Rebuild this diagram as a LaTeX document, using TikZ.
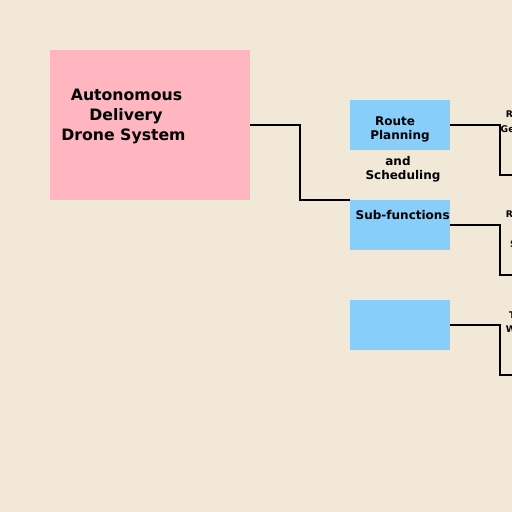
\documentclass[tikz,border=0pt]{standalone}
\usepackage{fontspec}
\setmainfont{DejaVu Sans}
\definecolor{bgc}{RGB}{242,232,216}
\definecolor{pinkc}{RGB}{255,182,193}
\definecolor{bluec}{RGB}{135,206,250}
\tikzset{
  mainbox/.style={fill=pinkc, draw=none, minimum width=200pt, minimum height=150pt, inner sep=0pt},
  subbox/.style={fill=bluec, draw=none, minimum width=100pt, minimum height=50pt, inner sep=0pt},
  bigtxt/.style={anchor=base, inner sep=0pt, font=\bfseries\fontsize{15.7}{20}\selectfont},
  midtxt/.style={anchor=base, inner sep=0pt, font=\bfseries\fontsize{12}{15}\selectfont},
  smalltxt/.style={anchor=base west, inner sep=0pt, font=\bfseries\fontsize{9.2}{12}\selectfont},
  conn/.style={draw=black, line width=2pt}
}
\begin{document}
\begin{tikzpicture}[x=1pt, y=-1pt]
\useasboundingbox (0,0) rectangle (512,512);
\clip (0,0) rectangle (512,512);
\fill[bgc] (0,0) rectangle (512,512);
% boxes
\node[mainbox] (main) at (150,125) {};
\node[subbox] (b1) at (400,125) {};
\node[subbox] (b2) at (400,225) {};
\node[subbox] (b3) at (400,325) {};
% main text
\node[bigtxt] (m1) at (126.5,100) {Autonomous};
\node[bigtxt] (m2) at (126,120) {Delivery};
\node[bigtxt] (m3) at (123.5,140) {Drone System};
% box texts
\node[midtxt] (r1) at (395,125) {Route};
\node[midtxt] (r2) at (400,139.5) {Planning};
\node[midtxt] (r3) at (398,165) {and};
\node[midtxt] (r4) at (403,179.5) {Scheduling};
\node[midtxt, anchor=base west] (s1) at (355.5,219.3) {Sub-functions};
% clipped labels at right edge
\node[smalltxt] (l1) at (505.7,117.3) {R};
\node[smalltxt] (l2) at (500.5,132.5) {Ge};
\node[smalltxt] (l3) at (505.7,217.3) {R};
\node[smalltxt] (l4) at (510,247) {S};
\node[smalltxt] (l5) at (508.8,318.2) {T};
\node[smalltxt] (l6) at (505.7,332) {W};
% connector end points beyond the right edge
\coordinate (e1) at (520,175);
\coordinate (e2) at (520,275);
\coordinate (e3) at (520,375);
% connectors
\draw[conn] (main.east) -- ++(50,0) |- (b2.north west);
\draw[conn] (b1.east) -- ++(50,0) |- (e1);
\draw[conn] (b2.east) -- ++(50,0) |- (e2);
\draw[conn] (b3.east) -- ++(50,0) |- (e3);
\end{tikzpicture}
\end{document}
